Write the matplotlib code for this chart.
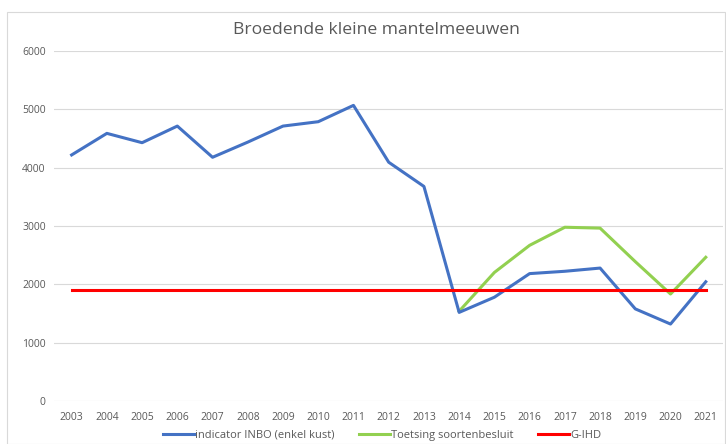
import matplotlib
matplotlib.use("Agg")
import matplotlib.pyplot as plt
from matplotlib.patches import Rectangle
import numpy as np

years = [str(y) for y in range(2003, 2022)]
indicator_inbo = [4220, 4590, 4430, 4715, 4180, 4440, 4715, 4790, 5070,
                  4095, 3680, 1520, 1780, 2185, 2225, 2280, 1580, 1320, 2045]
toetsing_years = years[11:]
toetsing = [1540, 2205, 2670, 2980, 2965, 2390, 1835, 2465]
g_ihd = 1910

plt.rcParams['font.family'] = ['Open Sans', 'DejaVu Sans']
grey = "#595959"

fig = plt.figure(figsize=(7.26, 4.44), dpi=100)
ax = fig.add_axes([0.0744, 0.0968, 0.922, 0.788])

x = np.arange(len(years))
x_t = np.arange(len(years) - len(toetsing), len(years))

ax.plot(x, indicator_inbo, color="#4472C4", lw=2.2, label="indicator INBO (enkel kust)", zorder=3)
ax.plot(x_t, toetsing, color="#92D050", lw=2.2, label="Toetsing soortenbesluit", zorder=2)
ax.plot(x, [g_ihd] * len(x), color="#FF0000", lw=2.2, label="G-IHD", zorder=4)

ax.set_xlim(-0.5, len(years) - 0.5)
ax.set_ylim(0, 6000)
ax.set_yticks(range(0, 6001, 1000))
ax.set_xticks(x)
ax.set_xticklabels(years)
ax.grid(axis="y", color="#D9D9D9", lw=0.8)
ax.set_axisbelow(True)
for s in ax.spines.values():
    s.set_visible(False)
ax.tick_params(length=0, labelsize=7.5, labelcolor=grey, pad=6)
ax.tick_params(axis="x", pad=8)

fig.text(0.518, 0.933, "Broedende kleine mantelmeeuwen", ha="center", va="center",
         fontsize=12.6, color=grey)

fig.legend(loc="lower center", bbox_to_anchor=(0.526, -0.015), ncol=3, frameon=False,
           fontsize=8, labelcolor=grey, handlelength=2.8, handletextpad=0.1,
           columnspacing=2.2)

fig.patches.append(Rectangle((0.009, 0.0), 0.989, 0.973, transform=fig.transFigure,
                             fill=False, edgecolor="#D9D9D9", lw=0.8))

fig.savefig("out.png", dpi=100)
